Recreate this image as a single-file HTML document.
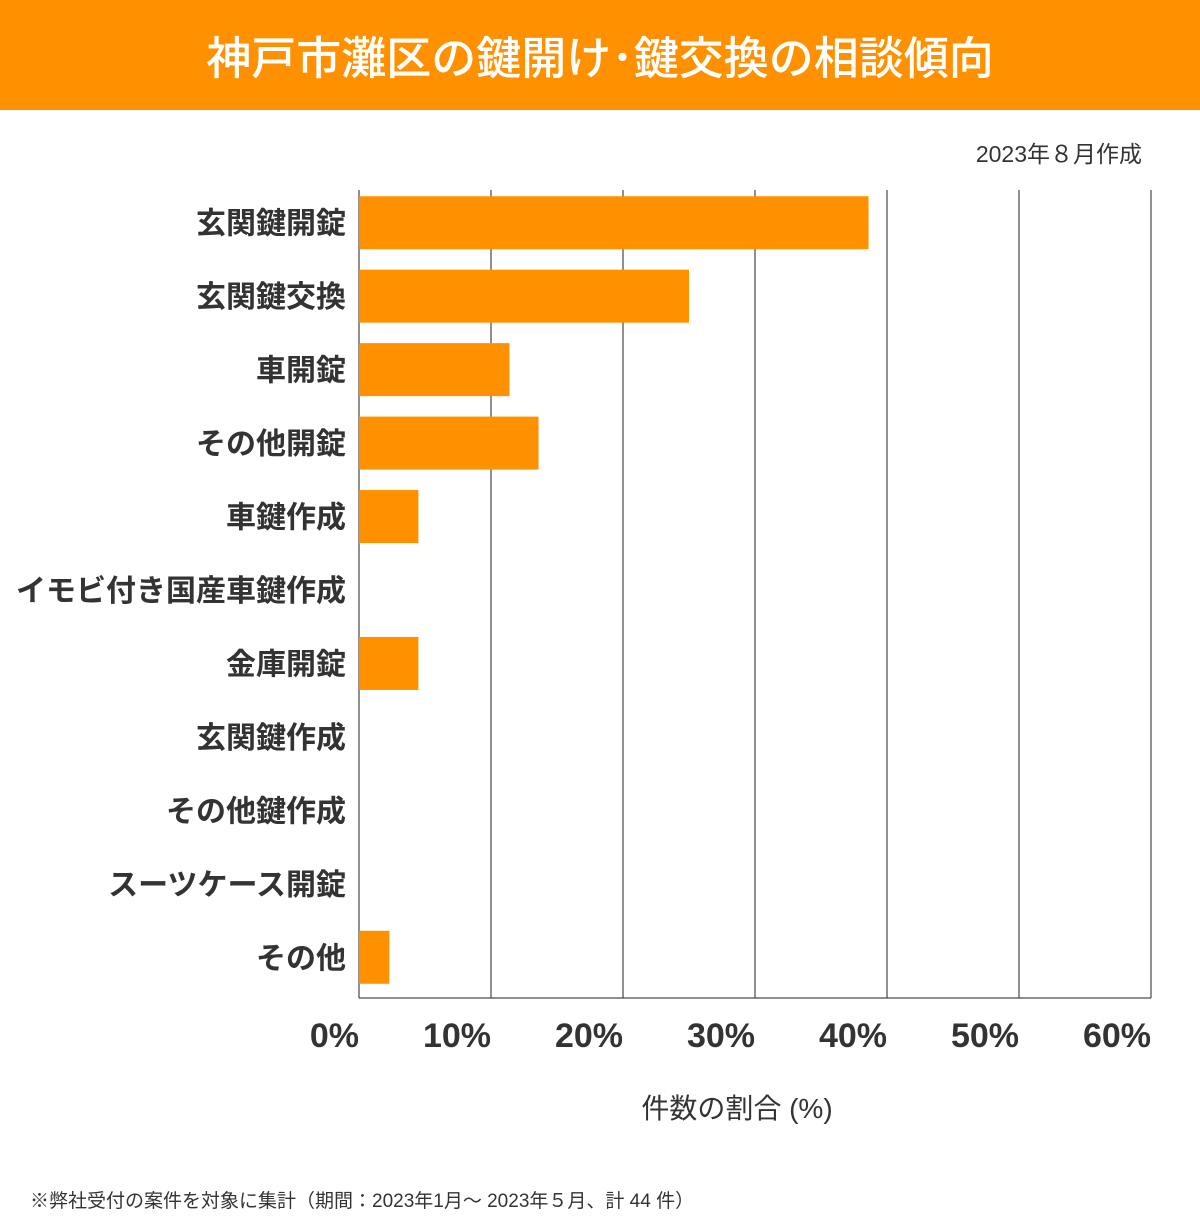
<!DOCTYPE html>
<html><head><meta charset="utf-8"><style>
html,body{margin:0;padding:0;background:#fff;}
body{width:1200px;height:1219px;position:relative;overflow:hidden;font-family:"Liberation Sans","Noto Sans CJK JP",sans-serif;}
#hdr{position:absolute;left:0;top:0;width:1200px;height:110px;background:#FF9100;color:#fff;font-size:45px;font-weight:500;text-align:center;line-height:118px;}
</style></head><body>
<div id="hdr">神戸市灘区の鍵開け･鍵交換の相談傾向</div>
<svg id="chart" width="1200" height="1219" style="position:absolute;left:0;top:0">
<text x="1142" y="162" text-anchor="end" font-size="23" fill="#333" font-family="Liberation Sans, Noto Sans CJK JP, sans-serif">2023年８月作成</text>
<g id="grid"></g><g id="bars"></g><g id="labels"></g><g id="ticks"></g>
<text x="737" y="1118" text-anchor="middle" font-size="28" fill="#333" font-family="Liberation Sans, Noto Sans CJK JP, sans-serif">件数の割合 (%)</text>
<text x="30" y="1207" font-size="19" fill="#333" font-family="Liberation Sans, Noto Sans CJK JP, sans-serif">※弊社受付の案件を対象に集計（期間：2023年1月～ 2023年５月、計 44 件）</text>
</svg>
<script>
const categories=["玄関鍵開錠","玄関鍵交換","車開錠","その他開錠","車鍵作成","イモビ付き国産車鍵作成","金庫開錠","玄関鍵作成","その他鍵作成","スーツケース開錠","その他"];
const values=[38.6,25.0,11.4,13.6,4.5,0,4.5,0,0,0,2.3];
const tickValues=[0,10,20,30,40,50,60];
const tickLabels=["0%","10%","20%","30%","40%","50%","60%"];
const NS="http://www.w3.org/2000/svg";
const x0=359,x1=1151,yTop=190,yBot=998,xMax=60;
const xs=v=>x0+(x1-x0)*v/xMax;
const step=(yBot-yTop)/categories.length;
const yc=i=>yTop+step*(i+0.5)-4;
const FF="Liberation Sans, Noto Sans CJK JP, sans-serif";
function mk(t,a,p){const e=document.createElementNS(NS,t);for(const k in a)e.setAttribute(k,a[k]);p.appendChild(e);return e;}
const grid=document.getElementById('grid'),bars=document.getElementById('bars'),labels=document.getElementById('labels'),ticks=document.getElementById('ticks');
tickValues.forEach((v,i)=>{
 const l=mk('line',{x1:xs(v),x2:xs(v),y1:yTop,y2:yBot,stroke:'#222','stroke-width':1},grid);
 
 
 const t=mk('text',{x:xs(v),y:1047,'text-anchor':'end','font-size':34,'font-weight':'bold',fill:'#333','font-family':FF},ticks);
 t.textContent=tickLabels[i];
 
 
});
const ax=mk('line',{x1:x0,x2:x1,y1:yBot,y2:yBot,stroke:'#222','stroke-width':1},grid);


categories.forEach((c,i)=>{
 const bh=53;
 if(values[i]>0){
  const r=mk('rect',{x:x0,y:yc(i)-bh/2,width:xs(values[i])-x0,height:bh,fill:'#FF9100'},bars);
  
  
 }
 const t=mk('text',{x:346,y:yc(i)+11,'text-anchor':'end','font-size':30,'font-weight':'bold',fill:'#333','font-family':FF},labels);
 t.textContent=c;
 
 
});
</script>
</body></html>
